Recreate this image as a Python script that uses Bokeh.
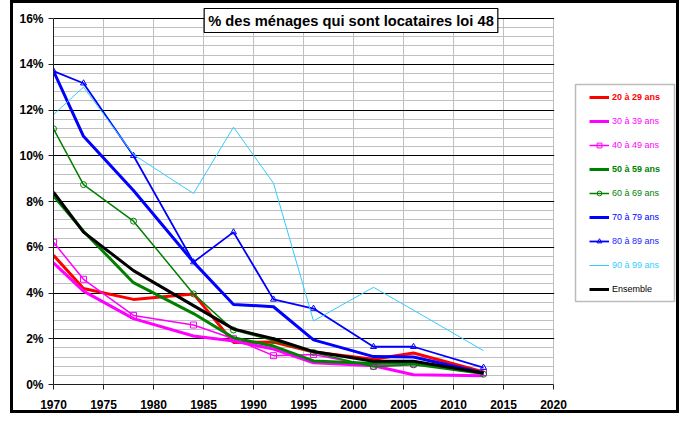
from bokeh.plotting import figure
from bokeh.models import (Legend, LegendItem, FixedTicker, PrintfTickFormatter,
                          Range1d, BoxAnnotation, Label)
from bokeh.embed import file_html
from bokeh.resources import INLINE

years = [1970, 1973, 1978, 1984, 1988, 1992, 1996, 2002, 2006, 2013]

a20_29 = [5.65, 4.2, 3.72, 3.96, 1.84, 1.86, 1.42, 1.1, 1.38, 0.55]
a30_39 = [5.32, 4.08, 2.88, 2.12, 1.9, 1.55, 0.95, 0.82, 0.43, 0.38]
a40_49 = [6.22, 4.6, 3.02, 2.6, 2.0, 1.26, 1.31, 0.8, 0.9, 0.52]
a50_59 = [8.25, 6.7, 4.45, 3.1, 2.04, 1.68, 1.03, 0.92, 0.95, 0.5]
a60_69 = [11.18, 8.74, 7.14, 3.96, 2.38, 1.92, 1.4, 0.78, 0.86, 0.45]
a70_79 = [13.7, 10.85, 8.48, 5.35, 3.5, 3.4, 1.95, 1.22, 1.2, 0.5]
a80_89 = [13.7, 13.17, 10.0, 5.35, 6.66, 3.72, 3.32, 1.65, 1.65, 0.74]
a90_99 = [11.8, 13.0, 10.05, 8.35, 11.25, 8.8, 2.78, 4.25, 3.25, 1.48]
ensemble = [8.41, 6.66, 4.98, 3.45, 2.43, 2.0, 1.44, 1.02, 1.02, 0.5]

x_ticks = [1970, 1975, 1980, 1985, 1990, 1995, 2000, 2005, 2010, 2015, 2020]
y_ticks = [0, 2, 4, 6, 8, 10, 12, 14, 16]
y_minor = [0.4, 0.8, 1.2, 1.6, 2.4, 2.8, 3.2, 3.6, 4.4, 4.8, 5.2, 5.6, 6.4, 6.8, 7.2, 7.6,
           8.4, 8.8, 9.2, 9.6, 10.4, 10.8, 11.2, 11.6, 12.4, 12.8, 13.2, 13.6,
           14.4, 14.8, 15.2, 15.6]

labels = ["20 à 29 ans", "30 à 39 ans", "40 à 49 ans", "50 à 59 ans", "60 à 69 ans",
          "70 à 79 ans", "80 à 89 ans", "90 à 99 ans", "Ensemble"]
series = [a20_29, a30_39, a40_49, a50_59, a60_69, a70_79, a80_89, a90_99, ensemble]
colors = ["#FF0000", "#FF00FF", "#FF00FF", "#008000", "#008000", "#0000FF", "#0000FF", "#33CCFF", "#000000"]
text_colors = ["#FF0000", "#FF00FF", "#FF00FF", "#008000", "#008000", "#0000FF", "#2222FF", "#33CCFF", "#000000"]
widths = [3, 3, 1.5, 3, 1.5, 3, 1.8, 1, 3]
markers = [None, None, "square", None, "circle", None, "triangle", None, None]
bold = [True, False, False, True, False, False, False, False, False]

title_text = "% des ménages qui sont locataires loi 48"

FONT = "Liberation Sans"
PX_X = 10.0      # px per year
PX_Y = 22.875    # px per percent

W, H = 669, 413
ML, MB = 40, 32
p = figure(width=W, height=H, output_backend="svg", toolbar_location=None,
           x_range=Range1d(1970, 1970 + (W - ML) / PX_X),
           y_range=Range1d(0, (H - MB) / PX_Y),
           min_border_left=ML, min_border_right=0, min_border_top=0, min_border_bottom=MB)
p.styles = {"border": "3px solid black", "margin-left": "10px"}
p.outline_line_color = None
p.background_fill_color = "white"
p.border_fill_color = "white"

# axes
p.xaxis.ticker = FixedTicker(ticks=x_ticks)
p.yaxis.ticker = FixedTicker(ticks=y_ticks, minor_ticks=y_minor)
p.yaxis.formatter = PrintfTickFormatter(format="%d%%")
p.xaxis.bounds = (1970, 2020)
p.yaxis.bounds = (0, 16)
for ax in (p.xaxis[0], p.yaxis[0]):
    ax.axis_line_color = "#202020"
    ax.axis_line_width = 1
    ax.major_tick_line_color = "#202020"
    ax.major_tick_out = 5
    ax.major_tick_in = 0
    ax.minor_tick_line_color = None
    ax.major_label_text_font = FONT
    ax.major_label_text_font_size = "12px"
    ax.major_label_text_font_style = "bold"
    ax.major_label_text_color = "black"
p.yaxis.major_label_standoff = 5
p.xaxis.major_label_standoff = 10

# grids
p.xgrid.grid_line_color = "#c0c0c0"
p.xgrid.grid_line_width = 1
p.ygrid.grid_line_color = "#000000"
p.ygrid.grid_line_width = 1
p.ygrid.minor_grid_line_color = "#c0c0c0"
p.ygrid.minor_grid_line_width = 1

# white areas outside the 1970-2020 / 0-16% grid
p.add_layout(BoxAnnotation(bottom=16 + 0.6 / PX_Y, fill_color="white", fill_alpha=1,
                           line_color=None, level="underlay"))
p.add_layout(BoxAnnotation(left=2020 + 0.6 / PX_X, fill_color="white", fill_alpha=1,
                           line_color=None, level="underlay"))

renderers = []
for lab, ys, c, w, m in zip(labels, series, colors, widths, markers):
    rs = [p.line(years, ys, line_color=c, line_width=w)]
    if m is not None:
        rs.append(p.scatter(years, ys, marker=m, size=6, line_color=c, line_width=1,
                            fill_color="white", fill_alpha=0))
    renderers.append(rs)

# legend box (screen units relative to the frame)
p.add_layout(BoxAnnotation(left=522, right=621, top=300, bottom=83,
                           left_units="screen", right_units="screen",
                           top_units="screen", bottom_units="screen",
                           fill_color="white", fill_alpha=1, line_color="#202020", line_width=1.5))

# per-item legends (each label has its own colour)
for k, (lab, rs, tc, b) in enumerate(zip(labels, renderers, text_colors, bold)):
    cy = 96.7 + 24 * k
    leg = Legend(items=[LegendItem(label=lab, renderers=rs)],
                 location=(536, 384 - (cy + 6)),
                 padding=0, margin=0, spacing=0,
                 glyph_width=20, glyph_height=12, label_height=12, label_standoff=3,
                 label_text_font=FONT, label_text_font_size="9px",
                 label_text_font_style="bold" if b else "normal",
                 label_text_color=tc,
                 border_line_color=None, background_fill_alpha=0)
    p.add_layout(leg, "center")

# title box
p.add_layout(Label(x=297.5, y=364, x_units="screen", y_units="screen", text=title_text,
                   text_font=FONT, text_font_size="14.7px", text_font_style="bold",
                   text_align="center", text_baseline="middle", text_color="black",
                   border_line_color="black", border_line_width=1.2,
                   background_fill_color="white", padding=4))

open("out.html", "w").write(file_html(p, INLINE))
